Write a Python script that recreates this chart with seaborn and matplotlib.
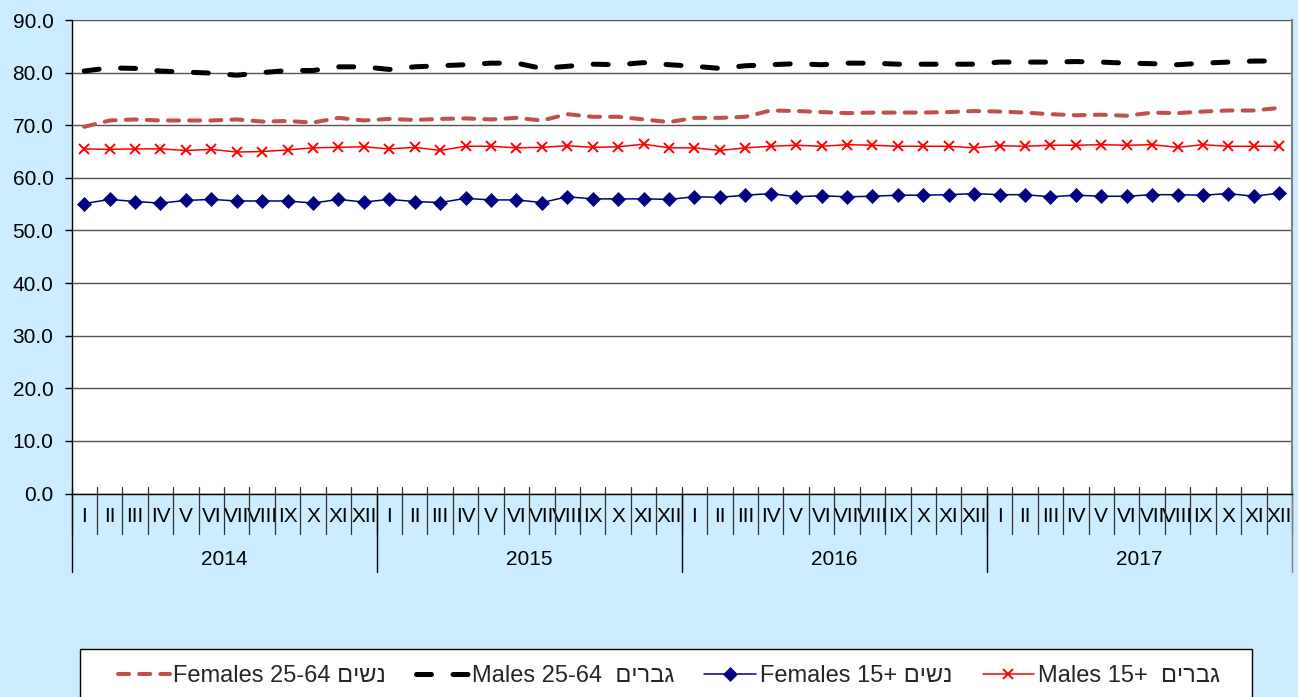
import numpy as np
import pandas as pd
import seaborn as sns
from matplotlib import pyplot as plt
from matplotlib import transforms
from matplotlib.patches import Rectangle

# categories
years = ['2014', '2015', '2016', '2017']
months = ['I', 'II', 'III', 'IV', 'V', 'VI', 'VII', 'VIII', 'IX', 'X', 'XI', 'XII']

# series values (Jan 2014 .. Dec 2017)
females_25_64 = [69.7, 70.9, 71.1, 70.9, 70.9, 70.9, 71.1, 70.7, 70.8, 70.5, 71.4, 70.9,
                 71.2, 71.0, 71.2, 71.3, 71.1, 71.4, 70.9, 72.1, 71.6, 71.6, 71.1, 70.6,
                 71.4, 71.4, 71.6, 72.8, 72.7, 72.5, 72.3, 72.4, 72.4, 72.4, 72.5, 72.7,
                 72.6, 72.4, 72.1, 71.9, 72.0, 71.8, 72.4, 72.3, 72.6, 72.8, 72.8, 73.3]
males_25_64 = [80.3, 80.9, 80.8, 80.3, 80.1, 79.9, 79.5, 80.0, 80.4, 80.4, 81.1, 81.1,
               80.6, 81.1, 81.3, 81.5, 81.8, 81.8, 80.8, 81.2, 81.6, 81.5, 81.9, 81.5,
               81.2, 80.8, 81.3, 81.5, 81.7, 81.5, 81.8, 81.8, 81.6, 81.6, 81.6, 81.6,
               82.0, 82.0, 82.0, 82.1, 82.0, 81.8, 81.7, 81.5, 81.8, 82.0, 82.2, 82.2]
females_15 = [55.1, 55.9, 55.5, 55.2, 55.7, 55.9, 55.6, 55.6, 55.6, 55.2, 55.9, 55.4,
              55.9, 55.5, 55.3, 56.1, 55.8, 55.8, 55.3, 56.4, 56.0, 56.0, 56.0, 55.9,
              56.4, 56.3, 56.7, 57.0, 56.4, 56.6, 56.4, 56.5, 56.7, 56.7, 56.8, 57.0,
              56.8, 56.8, 56.4, 56.7, 56.5, 56.5, 56.8, 56.8, 56.7, 57.0, 56.5, 57.1]
males_15 = [65.5, 65.4, 65.5, 65.5, 65.2, 65.4, 64.9, 65.0, 65.3, 65.7, 65.8, 65.9,
            65.5, 65.8, 65.2, 66.0, 66.0, 65.7, 65.8, 66.1, 65.8, 65.9, 66.4, 65.7,
            65.7, 65.2, 65.7, 66.0, 66.2, 66.0, 66.3, 66.2, 66.0, 66.0, 66.0, 65.7,
            66.1, 66.0, 66.2, 66.2, 66.3, 66.2, 66.3, 65.8, 66.3, 66.0, 66.0, 66.0]


def heb(s):
    # matplotlib lays text out left to right, flip Hebrew so it reads right
    return s[::-1]


legend_labels = ['Females 25-64 ' + heb('נשים'),
                 'Males 25-64  ' + heb('גברים'),
                 'Females 15+ ' + heb('נשים'),
                 'Males 15+  ' + heb('גברים')]

sns.set_theme(style='white')
plt.rcParams['font.family'] = ['Liberation Sans', 'DejaVu Sans']

bg = '#CCECFF'
W, H = 1298, 697
fs = 15
fig = plt.figure(figsize=(W / 100, H / 100), dpi=100, facecolor=bg)
ax = fig.add_axes([71.5 / W, 1 - 493.5 / H, (1292 - 71.5) / W, (493.5 - 20) / H])
ax.set_facecolor('white')

n = len(years) * len(months)
df = pd.DataFrame({
    'pos': np.arange(n),
    'f2564': females_25_64,
    'm2564': males_25_64,
    'f15': females_15,
    'm15': males_15,
})

handles = []
sns.lineplot(data=df, x='pos', y='f2564', ax=ax, color='#C0504D', lw=2.9,
             linestyle=(0, (2.75, 2.5)), dash_capstyle='round',
             errorbar=None, legend=False, zorder=3)
handles.append(ax.lines[-1])
sns.lineplot(data=df, x='pos', y='m2564', ax=ax, color='black', lw=3.6,
             linestyle=(0, (3.0, 4.3)), dash_capstyle='round',
             errorbar=None, legend=False, zorder=3)
handles.append(ax.lines[-1])
sns.lineplot(data=df, x='pos', y='f15', ax=ax, color='#000080', lw=1.1,
             marker='D', markersize=7.5, markeredgecolor='#000080', markeredgewidth=0.5,
             errorbar=None, legend=False, zorder=3)
handles.append(ax.lines[-1])
sns.lineplot(data=df, x='pos', y='m15', ax=ax, color='#FF0000', lw=1.1,
             marker='x', markersize=7.5, markeredgecolor='#FF0000', markeredgewidth=1.4,
             errorbar=None, legend=False, zorder=3)
handles.append(ax.lines[-1])

ax.set_xlim(-0.5, n - 0.5)
ax.set_ylim(0, 90)
yt = np.arange(0, 91, 10)
ax.set_yticks(yt)
ax.set_yticklabels([f'{v:.1f}' for v in yt])
ax.set_xticks(df['pos'])
ax.set_xticklabels(months * len(years))
ax.set_xlabel('')
ax.set_ylabel('')
ax.tick_params(axis='y', direction='out', length=5, width=1, color='black',
               pad=8, labelsize=fs, labelcolor='black', left=True)
ax.tick_params(axis='x', length=0, pad=10, labelsize=fs, labelcolor='black')
ax.grid(axis='y', color='#555555', lw=1.0)
ax.grid(axis='x', visible=False)

for side in ['left', 'bottom']:
    ax.spines[side].set_color('black')
    ax.spines[side].set_linewidth(1.0)
ax.spines['top'].set_visible(False)
ax.spines['right'].set_color('#808080')
ax.spines['right'].set_linewidth(1.5)

# two-level category axis: month dividers and year boxes
trans = transforms.blended_transform_factory(ax.transData, ax.transAxes)
for b in np.arange(n + 1) - 0.5:
    ax.plot([b, b], [0.0127, -0.0845], transform=trans, color='#303030',
            lw=0.9, clip_on=False)
for k in range(len(years) + 1):
    b = k * len(months) - 0.5
    c = '#808080' if k == len(years) else 'black'
    ax.plot([b, b], [0, -0.1658], transform=trans, color=c, lw=1.0, clip_on=False)
for k, y in enumerate(years):
    ax.text(k * len(months) + (len(months) - 1) / 2, -0.1404, y, transform=trans,
            ha='center', va='center', fontsize=fs, color='black')

# legend box, runs off the bottom of the picture like the original
fig.patches.append(Rectangle((80 / W, -0.1), (1252 - 80) / W, 1 - 649 / H + 0.1,
                             transform=fig.transFigure, facecolor='white',
                             edgecolor='black', lw=1.0, zorder=1))
leg = fig.legend(handles, legend_labels, loc='center left',
                 bbox_to_anchor=(118 / W, 1 - 676 / H, (1220 - 118) / W, 0),
                 mode='expand', ncol=4, frameon=False, fontsize=17,
                 handlelength=2.2, handletextpad=0.15, borderpad=0,
                 borderaxespad=0, numpoints=1)
leg.set_zorder(5)

fig.savefig('out.png', dpi=100, facecolor=bg)
